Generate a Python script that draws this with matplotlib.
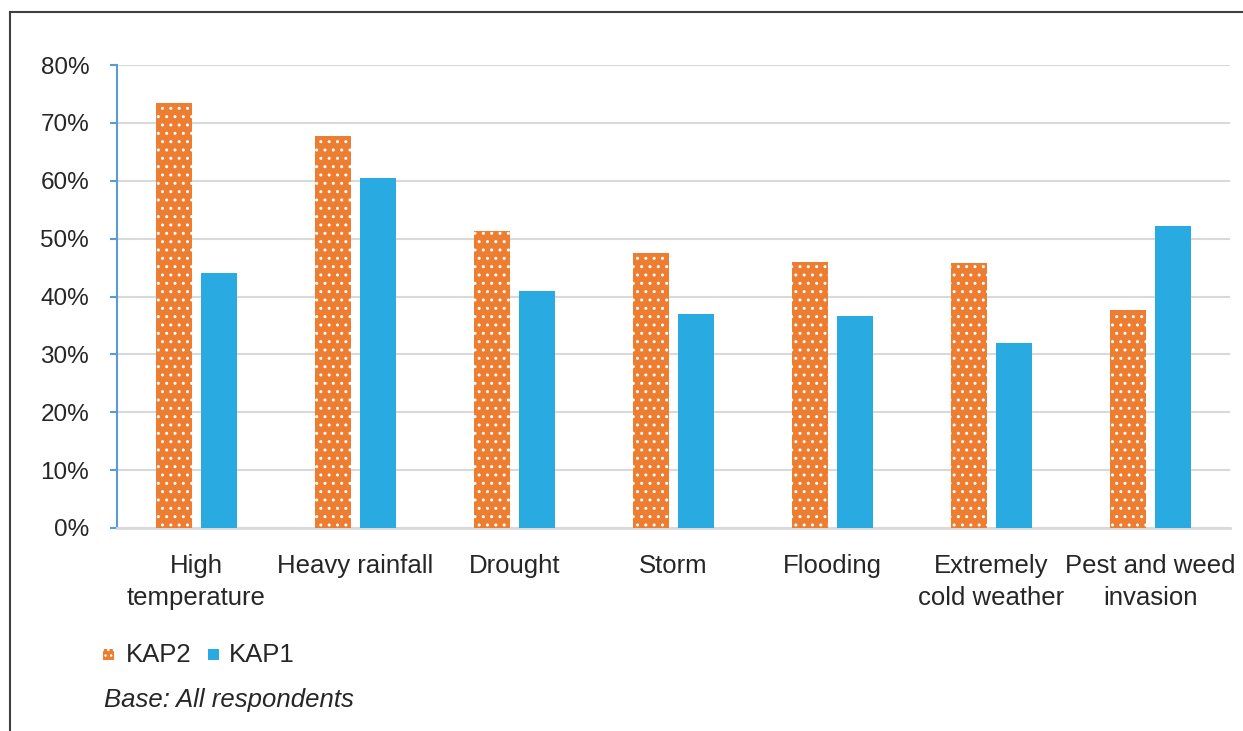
import matplotlib
matplotlib.use("Agg")
import matplotlib.pyplot as plt
from matplotlib.lines import Line2D
from matplotlib.patches import Rectangle
import numpy as np

categories = ["High\ntemperature", "Heavy rainfall", "Drought", "Storm",
              "Flooding", "Extremely\ncold weather", "Pest and weed\ninvasion"]
kap2 = [73.5, 67.7, 51.4, 47.6, 46.0, 45.8, 37.6]
kap1 = [44.0, 60.4, 41.0, 36.9, 36.6, 32.0, 52.2]
yticks = [0, 10, 20, 30, 40, 50, 60, 70, 80]

ORANGE = "#ED7D31"
BLUE = "#29ABE2"
GRID = "#D9D9D9"
TEXT = "#262626"
FS = 18.5

plt.rcParams['font.family'] = ['Liberation Sans', 'DejaVu Sans']

fig = plt.figure(figsize=(12.43, 7.31), dpi=100)
W, H = 1243, 731
ax = fig.add_axes([117 / W, 1 - 528 / H, (1230 - 117) / W, (528 - 65) / H])

x = np.arange(len(categories))
bw = 0.226
off = 0.143
ax.bar(x - off, kap2, width=bw, color=ORANGE, edgecolor="white", linewidth=0,
       hatch="..", zorder=3)
ax.bar(x + off, kap1, width=bw, color=BLUE, linewidth=0, zorder=3)

ax.set_xlim(-0.5, len(categories) - 0.5)
ax.set_ylim(0, 80)
ax.set_yticks(yticks)
ax.set_yticklabels([f"{v}%" for v in yticks], fontsize=17.5, color=TEXT)
ax.yaxis.grid(True, color=GRID, linewidth=1.5, zorder=0)
ax.set_axisbelow(True)
ax.set_xticks(x)
ax.set_xticklabels(categories, fontsize=FS, color=TEXT, linespacing=1.42)
ax.tick_params(axis="x", length=0, pad=19)
ax.tick_params(axis="y", length=5, color="#5B9BD5", width=1.5, pad=15)
for s in ["top", "right"]:
    ax.spines[s].set_visible(False)
ax.spines["left"].set_color("#5B9BD5")
ax.spines["left"].set_linewidth(1.5)
ax.spines["bottom"].set_color(GRID)
ax.spines["bottom"].set_linewidth(2)

# legend
sq = 11
fig.patches.append(Rectangle((103 / W, 1 - 660 / H), sq / W, sq / H,
                             transform=fig.transFigure, facecolor=ORANGE,
                             edgecolor="white", linewidth=0, hatch="..."))
fig.text(126 / W, 1 - 655 / H, "KAP2", fontsize=FS, color=TEXT, va="center")
fig.patches.append(Rectangle((208 / W, 1 - 660 / H), sq / W, sq / H,
                             transform=fig.transFigure, facecolor=BLUE,
                             linewidth=0))
fig.text(229 / W, 1 - 655 / H, "KAP1", fontsize=FS, color=TEXT, va="center")

fig.text(104 / W, 1 - 700 / H, "Base: All respondents", fontsize=FS,
         color=TEXT, style="italic", va="center")

# frame
fig.add_artist(Line2D([10 / W, 10 / W], [0, 1 - 12 / H], transform=fig.transFigure,
                      color="#404040", linewidth=1.5))
fig.add_artist(Line2D([10 / W, 1], [1 - 12 / H, 1 - 12 / H], transform=fig.transFigure,
                      color="#404040", linewidth=1.5))

fig.savefig("out.png", dpi=100)
